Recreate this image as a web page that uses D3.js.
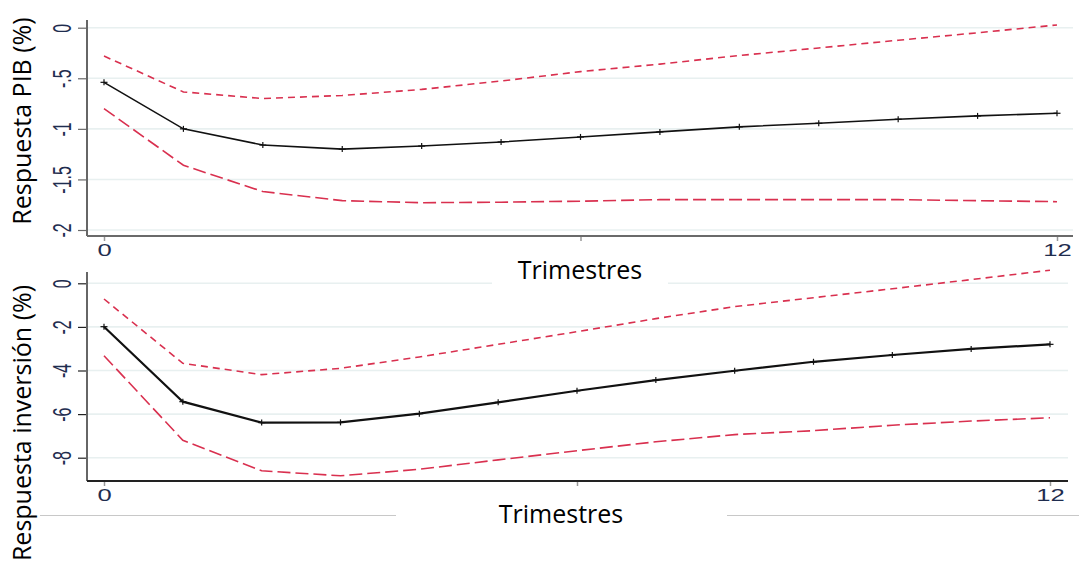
<!DOCTYPE html>
<html>
<head>
<meta charset="utf-8">
<script src="https://cdn.jsdelivr.net/npm/d3@7"></script>
<style>
  html, body { margin: 0; padding: 0; background: #fff; }
  svg { display: block; }
</style>
</head>
<body>
<svg id="chart" width="1079" height="563"></svg>
<script>
// ---------- data ----------
const quarters = [0, 1, 2, 3, 4, 5, 6, 7, 8, 9, 10, 11, 12];

// Panel 1: Respuesta PIB (%)
const pibCentral = [-0.54, -1.00, -1.16, -1.20, -1.17, -1.13, -1.08, -1.03, -0.98, -0.945, -0.905, -0.872, -0.846];
const pibUpper   = [-0.28, -0.635, -0.70, -0.67, -0.61, -0.527, -0.434, -0.36, -0.275, -0.20, -0.124, -0.05, 0.027];
const pibLower   = [-0.80, -1.36, -1.62, -1.71, -1.73, -1.725, -1.715, -1.70, -1.70, -1.70, -1.70, -1.71, -1.72];

// Panel 2: Respuesta inversión (%)
const invCentral = [-1.99, -5.43, -6.39, -6.38, -5.98, -5.46, -4.93, -4.44, -4.01, -3.60, -3.29, -3.01, -2.80];
const invUpper   = [-0.72, -3.67, -4.19, -3.90, -3.38, -2.80, -2.22, -1.62, -1.07, -0.66, -0.25, 0.17, 0.60];
const invLower   = [-3.32, -7.20, -8.60, -8.83, -8.53, -8.10, -7.68, -7.27, -6.94, -6.76, -6.51, -6.32, -6.17];

const xTickValues = [0, 6, 12];
const xTickLabels = ["0", "", "12"];
const pibTickValues = [0, -0.5, -1, -1.5, -2];
const pibTickLabels = ["0", "-.5", "-1", "-1.5", "-2"];
const invTickValues = [0, -2, -4, -6, -8];
const invTickLabels = ["0", "-2", "-4", "-6", "-8"];

const xTitle = "Trimestres";
const pibTitle = "Respuesta PIB (%)";
const invTitle = "Respuesta inversión (%)";

// ---------- styles ----------
const RED = "#d9304f";
const GRID = "#e8f0f0";
const TICKTXT = "#1f2d4f";
const titleFont = "'Open Sans', sans-serif";
const tickFont = "'Liberation Sans', Arial, sans-serif";

const svg = d3.select("#chart");

const panels = [
  {
    central: pibCentral, upper: pibUpper, lower: pibLower,
    tickValues: pibTickValues, tickLabels: pibTickLabels,
    x: d3.scaleLinear().domain([0, 12]).range([104, 1057]),
    y: d3.scaleLinear().domain([0, -2]).range([27.7, 230]),
    left: 87, right: 1073, top: 20, bottom: 236,
    axisColor: "#6a6a6a", centralWidth: 1.6,
    title: pibTitle, titleCx: 31, titleCy: 121,
    xTitleCx: 580, xTitleBase: 279
  },
  {
    central: invCentral, upper: invUpper, lower: invLower,
    tickValues: invTickValues, tickLabels: invTickLabels,
    x: d3.scaleLinear().domain([0, 12]).range([104, 1050]),
    y: d3.scaleLinear().domain([0, -8]).range([283.3, 457.7]),
    left: 87, right: 1068, top: 272, bottom: 481,
    axisColor: "#222", centralWidth: 2.2,
    title: invTitle, titleCx: 31, titleCy: 423,
    xTitleCx: 561, xTitleBase: 523
  }
];

// Gridlines first (under everything)
panels.forEach(p => {
  svg.append("g").selectAll("line")
    .data(p.tickValues).join("line")
    .attr("x1", p.left).attr("x2", p.right)
    .attr("y1", d => p.y(d)).attr("y2", d => p.y(d))
    .attr("stroke", GRID).attr("stroke-width", 1.6);
});

// Separator line near bottom (behind bottom x title)
svg.append("line").attr("x1", 40).attr("x2", 396).attr("y1", 515.5).attr("y2", 515.5)
  .attr("stroke", "#c8c8c8").attr("stroke-width", 1);
svg.append("line").attr("x1", 727).attr("x2", 1079).attr("y1", 515.5).attr("y2", 515.5)
  .attr("stroke", "#c8c8c8").attr("stroke-width", 1);

// White box behind the top "Trimestres" label
svg.append("rect").attr("x", 492).attr("y", 258).attr("width", 176).attr("height", 29).attr("fill", "#fff");

panels.forEach(p => {
  const g = svg.append("g");

  // Y axis (ticks + labels)
  const yAxis = d3.axisLeft(p.y)
    .tickValues(p.tickValues)
    .tickFormat((d, i) => p.tickLabels[i])
    .tickSize(9).tickSizeOuter(0);
  const ya = g.append("g").attr("transform", `translate(${p.left},0)`).call(yAxis);
  ya.select(".domain").remove();
  ya.selectAll(".tick line").attr("stroke", p.axisColor).attr("stroke-width", 1.2);
  ya.selectAll(".tick text")
    .attr("x", null).attr("dy", "0.35em")
    .attr("text-anchor", "middle")
    .attr("transform", "translate(-25,0) scale(1.6,1) rotate(-90)")
    .attr("fill", TICKTXT)
    .style("font-family", tickFont).style("font-size", "16px");

  // X axis
  const xAxis = d3.axisBottom(p.x)
    .tickValues(xTickValues)
    .tickFormat((d, i) => xTickLabels[i])
    .tickSize(5).tickSizeOuter(0);
  const xa = g.append("g").attr("transform", `translate(0,${p.bottom})`).call(xAxis);
  xa.select(".domain").remove();
  xa.selectAll(".tick line").attr("stroke", "#999").attr("stroke-width", 1.5);
  xa.selectAll(".tick text")
    .attr("x", 0).attr("y", 9)
    .attr("transform", "scale(1.6,1)")
    .attr("fill", TICKTXT)
    .style("font-family", tickFont).style("font-size", "16px");

  // Axis lines
  g.append("line").attr("x1", p.left).attr("x2", p.left).attr("y1", p.top).attr("y2", p.bottom)
    .attr("stroke", "#666").attr("stroke-width", 2);
  g.append("line").attr("x1", p.left).attr("x2", p.right).attr("y1", p.bottom).attr("y2", p.bottom)
    .attr("stroke", p.axisColor).attr("stroke-width", 2);

  const line = d3.line().x((d, i) => p.x(quarters[i])).y(d => p.y(d));

  // Confidence bands
  g.append("path").datum(p.upper).attr("d", line)
    .attr("fill", "none").attr("stroke", RED).attr("stroke-width", 1.6)
    .attr("stroke-dasharray", "7,5");
  g.append("path").datum(p.lower).attr("d", line)
    .attr("fill", "none").attr("stroke", RED).attr("stroke-width", 1.6)
    .attr("stroke-dasharray", "13,5");

  // Central response
  g.append("path").datum(p.central).attr("d", line)
    .attr("fill", "none").attr("stroke", "#111").attr("stroke-width", p.centralWidth);

  // Plus markers
  const mk = g.append("g").selectAll("g").data(p.central).join("g")
    .attr("transform", (d, i) => `translate(${p.x(quarters[i])},${p.y(d)})`);
  mk.append("line").attr("x1", -3.5).attr("x2", 3.5).attr("y1", 0).attr("y2", 0)
    .attr("stroke", "#111").attr("stroke-width", 1.2);
  mk.append("line").attr("x1", 0).attr("x2", 0).attr("y1", -3).attr("y2", 3)
    .attr("stroke", "#111").attr("stroke-width", 1.2);

  // Titles
  svg.append("text")
    .attr("transform", `translate(${p.titleCx},${p.titleCy}) rotate(-90)`)
    .attr("text-anchor", "middle")
    .attr("fill", "#000")
    .style("font-family", titleFont).style("font-size", "25px")
    .text(p.title);

  svg.append("text")
    .attr("x", p.xTitleCx).attr("y", p.xTitleBase)
    .attr("text-anchor", "middle")
    .attr("fill", "#000")
    .style("font-family", titleFont).style("font-size", "25px")
    .text(xTitle);
});
</script>
</body>
</html>
